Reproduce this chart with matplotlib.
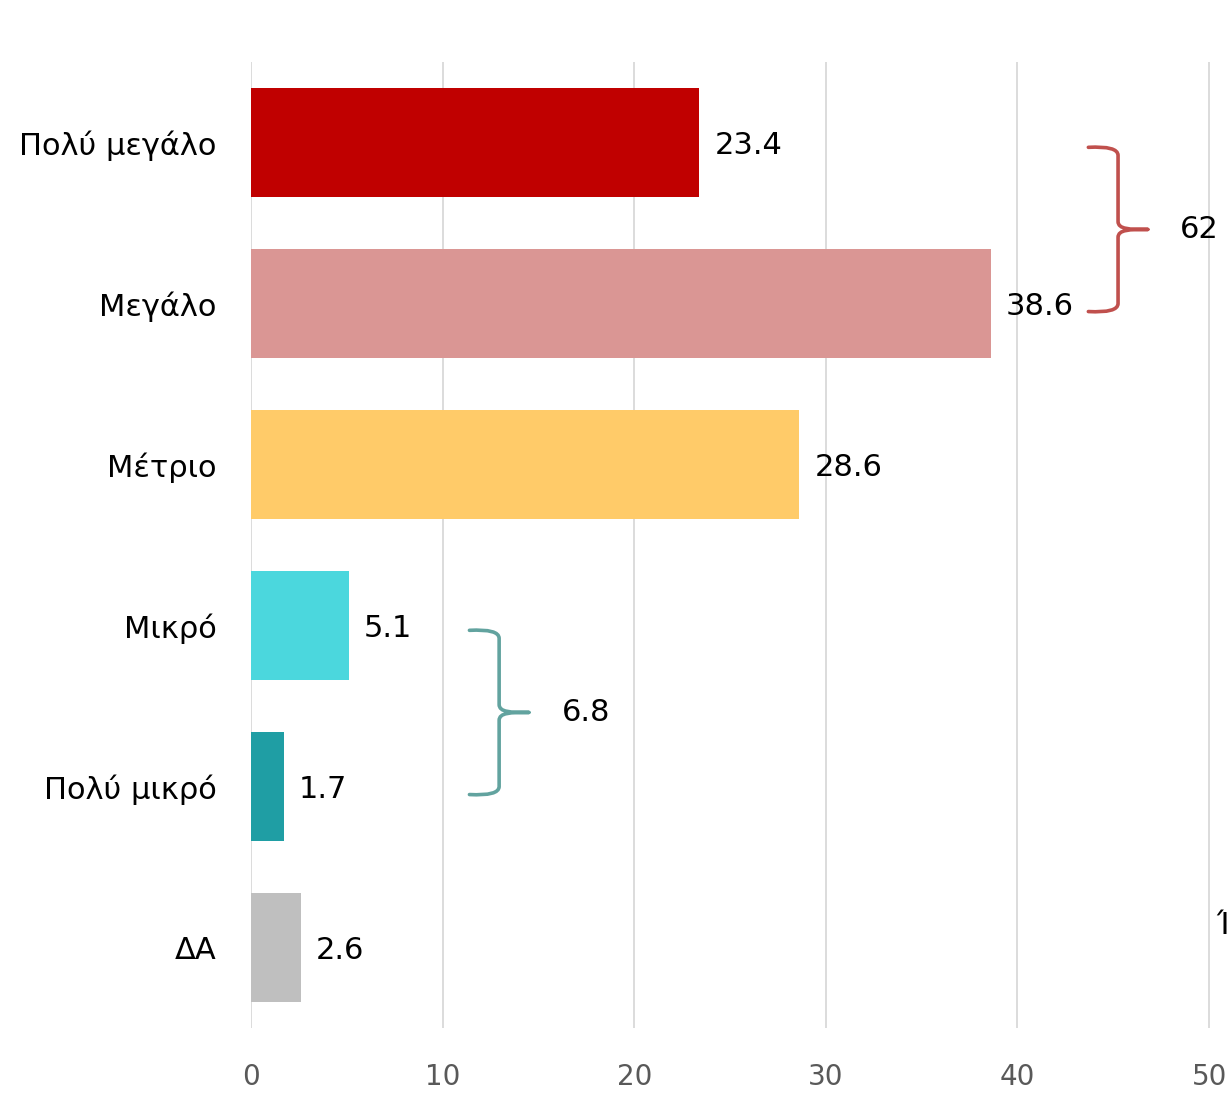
import matplotlib.pyplot as plt
from matplotlib.path import Path
from matplotlib.patches import PathPatch

plt.rcParams['font.family'] = ['DejaVu Sans']

categories = ['Πολύ μεγάλο', 'Μεγάλο', 'Μέτριο', 'Μικρό', 'Πολύ μικρό', 'ΔΑ']
values = [23.4, 38.6, 28.6, 5.1, 1.7, 2.6]
colors = ['#C00000', '#DA9694', '#FFCB69', '#4BD7DD', '#1F9EA4', '#BFBFBF']
ticks = [0, 10, 20, 30, 40, 50]

# grouped sums shown with braces: (first idx, last idx, label, colour)
groups = [(0, 1, '62', '#C0504D'), (3, 4, '6.8', '#62A39F')]
brace_x = {'62': 43.7, '6.8': 11.4}

LABEL_FS = 22
GRID = '#D9D9D9'


def brace(ax, x0, y0, y1, color, w=1.55, tip=1.55):
    # right-pointing curly brace from y0 (top) to y1 (bottom), starting at x0
    xm = x0 + w
    ymid = (y0 + y1) / 2
    r = 0.05
    verts = [(x0, y0), (xm, y0 - 0.01), (xm, y0 + r),
             (xm, ymid - r),
             (xm, ymid), (xm + tip * 0.4, ymid), (xm + tip, ymid),
             (xm + tip * 0.4, ymid), (xm, ymid), (xm, ymid + r),
             (xm, y1 - r),
             (xm, y1 + 0.01), (x0, y1)]
    codes = [Path.MOVETO, Path.CURVE3, Path.CURVE3,
             Path.LINETO,
             Path.CURVE4, Path.CURVE4, Path.CURVE4,
             Path.CURVE4, Path.CURVE4, Path.CURVE4,
             Path.LINETO,
             Path.CURVE3, Path.CURVE3]
    ax.add_patch(PathPatch(Path(verts, codes), fill=False, edgecolor=color,
                           lw=2.6, capstyle='round', joinstyle='round',
                           clip_on=False))
    return xm + tip, ymid


fig = plt.figure(figsize=(12.29, 10.96), dpi=100)
ax = fig.add_axes([251 / 1229, 68 / 1096, 1 - 251 / 1229, 966 / 1096])

ypos = list(range(len(categories)))
ax.barh(ypos, values, color=colors, height=0.68, zorder=2)

for y, v in zip(ypos, values):
    ax.annotate(f'{v}', (v, y), xytext=(11, -2), textcoords='offset points',
                va='center', ha='left', fontsize=LABEL_FS, color='black')

for i0, i1, lab, col in groups:
    xt, ym = brace(ax, brace_x[lab], i0 + 0.03, i1 + 0.05, col)
    ax.text(xt + 1.7, ym, lab, va='center', ha='left', fontsize=LABEL_FS,
            color='black', clip_on=False)

# cut-off text at the right edge of the original picture
fig.text(1216 / 1229, 1 - 925 / 1096, 'Ί', fontsize=LABEL_FS, va='center',
         ha='left', color='black')

ax.set_xlim(0, 51.04)
ax.set_ylim(5.5, -0.5)
ax.set_xticks(ticks)
ax.set_yticks(ypos)
ax.set_yticklabels(categories, fontsize=LABEL_FS)
ax.tick_params(axis='y', length=0, pad=25)
ax.tick_params(axis='x', length=0, pad=25, labelsize=20, labelcolor='#595959')
for lbl in ax.get_xticklabels():
    lbl.set_family(['Liberation Sans Narrow', 'DejaVu Sans Condensed', 'DejaVu Sans'])
ax.grid(axis='x', color=GRID, lw=1.3, zorder=0)
ax.set_axisbelow(True)
for s in ax.spines.values():
    s.set_visible(False)

fig.savefig('out.png', dpi=100)
